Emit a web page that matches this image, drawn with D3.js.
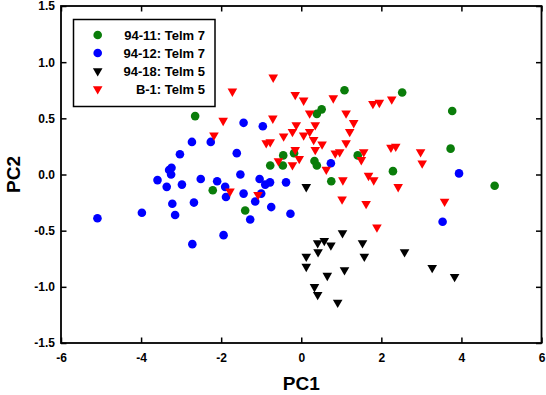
<!DOCTYPE html>
<html>
<head>
<meta charset="utf-8">
<script src="https://cdn.jsdelivr.net/npm/d3@7"></script>
<style>
  body { margin: 0; background: #fff; }
  svg { display: block; font-family: "Liberation Sans", Arial, sans-serif; }
  .tick text { font-size: 12px; font-weight: bold; fill: #000; }
</style>
</head>
<body>
<script>
// PC scores, [PC1, PC2]
const s9411 = [[-2.65,0.52],[-2.21,-0.14],[-1.4,-0.32],[-0.775,0.08],[-0.46,0.08],[-0.45,0.17],
  [-0.18,0.19],[0.33,0.12],[0.39,0.08],[0.39,0.54],[0.51,0.58],[0.75,-0.06],[1.08,0.75],
  [1.41,0.17],[2.29,0.03],[2.52,0.73],[3.77,0.565],[3.73,0.23],[4.83,-0.1]];
const s9412 = [[-5.09,-0.39],[-3.98,-0.34],[-3.59,-0.05],[-3.36,-0.11],[-3.3,0.04],[-3.24,0.06],
  [-3.25,0.0],[-3.22,-0.26],[-3.15,-0.36],[-3.03,0.18],[-2.98,-0.09],[-2.73,0.29],[-2.68,-0.25],
  [-2.72,-0.62],[-2.51,-0.04],[-2.26,0.29],[-2.1,-0.06],[-1.9,-0.11],[-1.88,-0.2],[-1.94,-0.54],
  [-1.61,0.19],[-1.44,0.46],[-1.52,0.0],[-1.44,-0.17],[-1.275,-0.4],[-1.15,-0.24],[-1.04,-0.04],
  [-1.0,-0.17],[-0.96,0.43],[-0.9,-0.09],[-0.78,-0.07],[-0.75,-0.29],[-0.38,-0.07],[-0.27,-0.35],
  [0.74,0.1],[3.53,-0.42],[3.94,0.01]];
const s9418 = [[0.125,-0.11],[0.575,-0.59],[0.41,-0.61],[0.74,-0.63],[0.42,-0.69],[0.125,-0.73],
  [0.125,-0.82],[0.65,-0.9],[0.33,-1.0],[0.41,-1.07],[0.91,-1.14],[1.03,-0.52],[1.53,-0.61],
  [1.575,-0.73],[1.08,-0.85],[2.58,-0.69],[3.27,-0.83],[3.83,-0.91]];
const sB1 = [[-2.18,0.35],[-1.95,0.48],[-1.78,-0.15],[-1.72,0.74],[-1.08,-0.18],[-0.875,0.28],
  [-0.775,0.29],[-0.71,0.5],[-0.7,0.865],[-0.57,0.12],[-0.44,0.34],[-0.22,0.38],[-0.22,0.085],
  [-0.15,0.71],[-0.125,0.44],[-0.15,0.22],[-0.05,0.14],[0.06,0.66],[0.06,0.35],[0.21,0.545],
  [0.21,0.38],[0.31,0.31],[0.35,0.44],[0.35,0.22],[0.52,0.27],[0.625,0.045],[0.8,0.68],
  [0.85,0.19],[0.96,0.2],[1.04,-0.05],[1.02,-0.22],[1.12,0.545],[1.12,0.28],[1.21,0.38],
  [1.31,0.46],[1.5,0.13],[1.56,0.2],[1.62,-0.26],[1.68,-0.01],[1.79,0.63],[1.81,-0.05],
  [1.89,-0.47],[1.95,0.64],[2.24,0.24],[2.36,0.25],[2.26,0.67],[2.42,-0.11],[2.98,0.2],
  [3.02,0.1],[3.58,-0.24]];

const xTicks = [-6, -4, -2, 0, 2, 4, 6];
const yTicks = [-1.5, -1.0, -0.5, 0.0, 0.5, 1.0, 1.5];

const series = [
  { name: '94-11: Telm 7', data: s9411, color: '#0a7d0a', shape: 'circle' },
  { name: '94-12: Telm 7', data: s9412, color: '#0000ff', shape: 'circle' },
  { name: '94-18: Telm 5', data: s9418, color: '#000000', shape: 'tri' },
  { name: 'B-1: Telm 5', data: sB1, color: '#ff0000', shape: 'tri' }
];

const W = 546, H = 395;
const L = 61, R = 541.5, T = 6, B = 343;

const svg = d3.select('body').append('svg')
  .attr('width', W)
  .attr('height', H);

const x = d3.scaleLinear().domain([-6, 6]).range([L, R]);
const y = d3.scaleLinear().domain([-1.5, 1.5]).range([B, T]);

const tri = d3.symbol().type(d3.symbolTriangle).size(40);

function drawMarks(g, s) {
  if (s.shape === 'circle') {
    g.selectAll('circle')
      .data(s.data)
      .enter()
      .append('circle')
      .attr('cx', d => x(d[0]))
      .attr('cy', d => y(d[1]))
      .attr('r', 4.3)
      .attr('fill', s.color);
  } else {
    g.selectAll('path')
      .data(s.data)
      .enter()
      .append('path')
      .attr('d', tri)
      .attr('transform', d => `translate(${x(d[0])},${y(d[1])}) rotate(180)`)
      .attr('fill', s.color);
  }
}

// draw order: green, blue, black, red on top
[0, 1, 2, 3].forEach(i => drawMarks(svg.append('g'), series[i]));

// axes, ticks point inward; plain hyphen for negatives like the original
svg.append('g')
  .attr('transform', `translate(0,${B})`)
  .call(d3.axisBottom(x).tickValues(xTicks).tickFormat(d => String(d)).tickSize(-5.5).tickPadding(10));
svg.append('g')
  .attr('transform', `translate(0,${T})`)
  .call(d3.axisTop(x).tickValues(xTicks).tickFormat('').tickSize(-5.5));
svg.append('g')
  .attr('transform', `translate(${L},0)`)
  .call(d3.axisLeft(y).tickValues(yTicks).tickFormat(d => d.toFixed(1)).tickSize(-5.5).tickPadding(6));
svg.append('g')
  .attr('transform', `translate(${R},0)`)
  .call(d3.axisRight(y).tickValues(yTicks).tickFormat('').tickSize(-5.5));

svg.selectAll('.domain').remove();
svg.selectAll('.tick line').attr('stroke', '#000').attr('stroke-width', 1.5);

svg.append('rect')
  .attr('x', L)
  .attr('y', T)
  .attr('width', R - L)
  .attr('height', B - T)
  .attr('fill', 'none')
  .attr('stroke', '#000')
  .attr('stroke-width', 1.8);

// axis titles
svg.append('text')
  .text('PC1')
  .attr('x', (L + R) / 2)
  .attr('y', 390)
  .attr('text-anchor', 'middle')
  .attr('font-size', 19)
  .attr('font-weight', 'bold');

svg.append('text')
  .text('PC2')
  .attr('transform', `translate(20,${(T + B) / 2}) rotate(-90)`)
  .attr('text-anchor', 'middle')
  .attr('font-size', 19)
  .attr('font-weight', 'bold');

// legend
const leg = svg.append('g');
leg.append('rect')
  .attr('x', 73.5)
  .attr('y', 19.5)
  .attr('width', 141.5)
  .attr('height', 87)
  .attr('fill', '#fff')
  .attr('stroke', '#000')
  .attr('stroke-width', 1.5);

const rows = [35, 53, 71, 89];
series.forEach((s, i) => {
  if (s.shape === 'circle') {
    leg.append('circle')
      .attr('cx', 97.7)
      .attr('cy', rows[i])
      .attr('r', 4.3)
      .attr('fill', s.color);
  } else {
    leg.append('path')
      .attr('d', tri)
      .attr('transform', `translate(97.7,${rows[i]}) rotate(180)`)
      .attr('fill', s.color);
  }
  leg.append('text')
    .text(s.name)
    .attr('x', 205)
    .attr('y', rows[i] + 4.6)
    .attr('text-anchor', 'end')
    .attr('font-size', 13)
    .attr('font-weight', 'bold');
});
</script>
</body>
</html>
